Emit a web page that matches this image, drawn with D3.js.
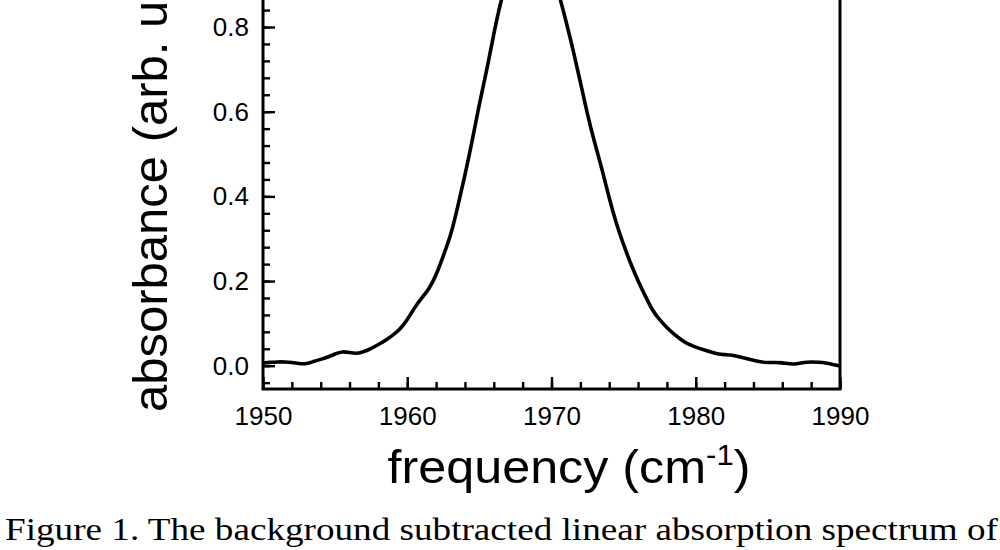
<!DOCTYPE html>
<html>
<head>
<meta charset="utf-8">
<script src="https://cdn.jsdelivr.net/npm/d3@7"></script>
<style>
    body { margin: 0; background: #fff; }
    svg { display: block; }
    .axis text { font-family: "Liberation Sans", Arial, sans-serif; font-size: 26px; fill: #000; }
    .axis line { stroke: #000; stroke-width: 2.4px; }
    .axis path { display: none; }
    .frame { stroke: #000; stroke-width: 3px; fill: none; }
    .title { font-family: "Liberation Sans", Arial, sans-serif; fill: #000; }
    .caption { font-family: "Liberation Serif", "Times New Roman", "DejaVu Serif", serif; font-size: 31px; fill: #000; }
</style>
</head>
<body>
<script>
'use strict';

// spectrum (cm-1, arb. u.)
var frequency = [
    1950.0, 1950.5, 1951.0, 1951.5, 1952.0, 1952.5, 1953.0, 1953.5, 1954.0, 1954.5,
    1955.0, 1955.5, 1956.0, 1956.5, 1957.0, 1957.5, 1958.0, 1958.5, 1959.0, 1959.5,
    1960.0, 1960.5, 1961.0, 1961.5, 1962.0, 1962.5, 1963.0, 1963.5, 1964.0, 1964.5,
    1965.0, 1965.5, 1966.0, 1966.5, 1967.0, 1967.5, 1968.0, 1968.5, 1969.0, 1969.5,
    1970.0, 1970.5, 1971.0, 1971.5, 1972.0, 1972.5, 1973.0, 1973.5, 1974.0, 1974.5,
    1975.0, 1975.5, 1976.0, 1976.5, 1977.0, 1977.5, 1978.0, 1978.5, 1979.0, 1979.5,
    1980.0, 1980.5, 1981.0, 1981.5, 1982.0, 1982.5, 1983.0, 1983.5, 1984.0, 1984.5,
    1985.0, 1985.5, 1986.0, 1986.5, 1987.0, 1987.5, 1988.0, 1988.5, 1989.0, 1989.5,
    1990.0
];
var absorbance = [
    0.006, 0.008, 0.009, 0.009, 0.008, 0.005, 0.004, 0.010, 0.015, 0.020,
    0.028, 0.034, 0.031, 0.028, 0.033, 0.041, 0.050, 0.060, 0.072, 0.086,
    0.108, 0.137, 0.160, 0.180, 0.213, 0.260, 0.305, 0.375, 0.450, 0.530,
    0.620, 0.695, 0.785, 0.864, 0.920, 0.960, 0.988, 1.000, 0.995, 0.975,
    0.935, 0.880, 0.815, 0.746, 0.670, 0.592, 0.525, 0.465, 0.395, 0.335,
    0.285, 0.240, 0.200, 0.165, 0.130, 0.108, 0.090, 0.074, 0.061, 0.050,
    0.044, 0.038, 0.033, 0.028, 0.026, 0.025, 0.021, 0.017, 0.013, 0.009,
    0.007, 0.008, 0.007, 0.004, 0.004, 0.008, 0.009, 0.008, 0.007, 0.003,
    -0.001
];

var xMajorTicks = [1950, 1960, 1970, 1980, 1990];
var xMinorTicks = d3.range(1950, 1991, 2);
var yMajorTicks = [0.0, 0.2, 0.4, 0.6, 0.8];
var yMinorTicks = d3.range(-0.04, 1.09, 0.04);

var xLabel = "frequency (cm";
var xLabelSup = "-1";
var yLabel = "absorbance (arb. units)";
var caption = "Figure 1.  The background subtracted linear absorption spectrum of";

var W = 1000, H = 550;
// plot frame; top lies above the visible page, as in the cropped figure
var frame = {left: 263, right: 840, top: -100, bottom: 389};

var svg = d3.select("body").append("svg")
    .attr("width", W)
    .attr("height", H);

var x = d3.scaleLinear()
    .domain([1950, 1990])
    .range([frame.left, frame.right]);

var y = d3.scaleLinear()
    .domain([-0.055, 1.1])
    .range([frame.bottom, frame.top]);

// minor ticks first, inward
svg.append("g")
    .attr("class", "axis")
    .attr("transform", "translate(0," + frame.bottom + ")")
    .call(d3.axisBottom(x).tickValues(xMinorTicks).tickSize(-7).tickFormat(""));

svg.append("g")
    .attr("class", "axis")
    .attr("transform", "translate(" + frame.left + ",0)")
    .call(d3.axisLeft(y).tickValues(yMinorTicks).tickSize(-7).tickFormat(""));

svg.append("g")
    .attr("class", "axis")
    .attr("transform", "translate(0," + frame.bottom + ")")
    .call(d3.axisBottom(x).tickValues(xMajorTicks).tickSize(-12).tickPadding(18).tickFormat(d3.format("d")));

svg.append("g")
    .attr("class", "axis")
    .attr("transform", "translate(" + frame.left + ",0)")
    .call(d3.axisLeft(y).tickValues(yMajorTicks).tickSize(-12).tickPadding(14).tickFormat(d3.format(".1f")));

svg.append("path")
    .attr("class", "frame")
    .attr("d", "M" + frame.left + "," + frame.top +
        "V" + frame.bottom + "H" + frame.right + "V" + frame.top);

var line = d3.line()
    .x(function(d, i) { return x(frequency[i]); })
    .y(function(d) { return y(d); })
    .curve(d3.curveBasis);

svg.append("path")
    .datum(absorbance)
    .attr("d", line)
    .attr("fill", "none")
    .attr("stroke", "#000")
    .attr("stroke-width", 3.6)
    .attr("stroke-linejoin", "round");

// axis titles
var xt = svg.append("text")
    .attr("class", "title")
    .attr("text-anchor", "middle")
    .attr("transform", "translate(569,483) scale(1.07,1)")
    .style("font-size", "47px");
xt.append("tspan").text(xLabel);
xt.append("tspan")
    .attr("dy", "-18")
    .style("font-size", "29px")
    .text(xLabelSup);
xt.append("tspan")
    .attr("dy", "18")
    .text(")");

svg.append("text")
    .attr("class", "title")
    .attr("text-anchor", "start")
    .attr("transform", "translate(167,412) rotate(-90)")
    .style("font-size", "49px")
    .text(yLabel);

svg.append("text")
    .attr("class", "caption")
    .attr("x", 5)
    .attr("y", 540)
    .attr("textLength", 993)
    .attr("lengthAdjust", "spacingAndGlyphs")
    .text(caption);
</script>
</body>
</html>
